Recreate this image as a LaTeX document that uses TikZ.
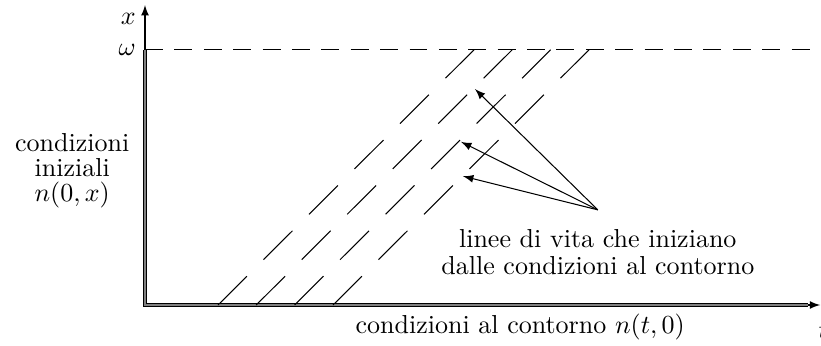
\documentclass[tikz,border=0pt]{standalone}
\usepackage{tikz}

\begin{document}
\begin{tikzpicture}[x=1.081cm, y=1.081cm,
    lifeline/.style={dash pattern=on 15.7pt off 9pt},
    boundary/.style={double=gray, double distance=1pt, line width=0.45pt}]

\useasboundingbox (-1.8125,-0.5) rectangle (8.45,3.8125);

% Axes
\coordinate (O) at (0,0);
\coordinate (ytip) at (0,3.75);
\coordinate (xtip) at (8.44,0);
\coordinate (wtop) at (0,3.19);
\coordinate (xend) at (8.29,0);
\draw[-latex] (O) -- (ytip);
\draw[-latex] (O) -- (xtip);
\node[left] at (0,3.58) {$x$};
\node[below, xshift=1.2pt, yshift=-3pt] at (xtip) {$t$};
\node[left] at (wtop) {$\omega$};

% Upper limit omega
\draw[dash pattern=on 6.9pt off 4.4pt] (wtop) -- (8.6,3.19);

% Boundary and initial data
\draw[boundary] (wtop) -- (O) -- (xend);

% Life lines
\draw[lifeline] (0.9125,0) -- ++(3.2,3.19);
\draw[lifeline] (1.39,0) -- ++(3.2,3.19);
\draw[lifeline] (1.87,0) -- ++(3.2,3.19);
\draw[lifeline] (2.35,0) -- ++(3.2,3.19);

% Labels
\node[align=center, font=\fontsize{10}{9.6}\selectfont] (ini) at (-0.91,1.68) {condizioni\\iniziali\\$n(0,x)$};
\node[below] (cont) at (4.69,0) {condizioni al contorno $n(t,0)$};
\node[below, align=center, font=\fontsize{10}{10.5}\selectfont] (lbl) at (5.66,1.06)
  {linee di vita che iniziano\\dalle condizioni al contorno};

% Arrows to the life lines
\coordinate (t1) at (4.125,2.7);
\coordinate (t2) at (3.95,2.04);
\coordinate (t3) at (3.975,1.61);
\draw[-latex] ([yshift=0.14cm]lbl.north) -- (t1);
\draw[-latex] ([yshift=0.14cm]lbl.north) -- (t2);
\draw[-latex] ([yshift=0.14cm]lbl.north) -- (t3);

\end{tikzpicture}
\end{document}
